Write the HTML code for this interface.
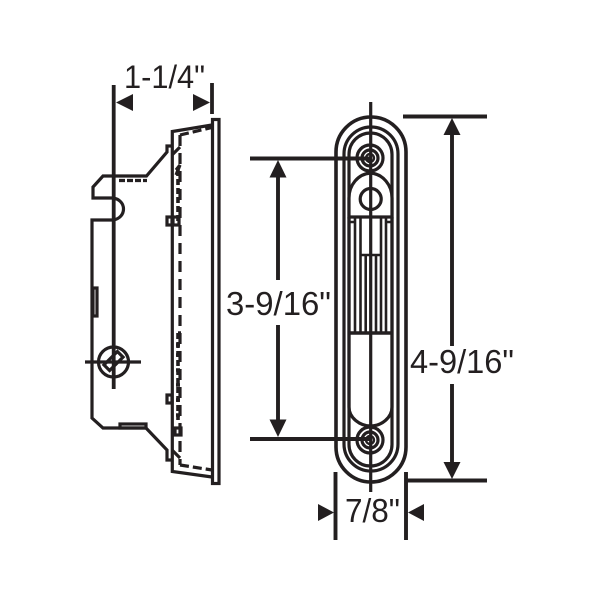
<!DOCTYPE html>
<html><head><meta charset="utf-8"><style>
html,body{margin:0;padding:0;background:#fff}
svg{display:block}
text{font-family:"Liberation Sans",sans-serif;fill:#231f20}
</style></head><body>
<svg width="600" height="600" viewBox="0 0 600 600" xmlns="http://www.w3.org/2000/svg">
<rect width="600" height="600" fill="#fff"/>
<g fill="none" stroke="#231f20" stroke-width="3.2">
<!-- left view -->
<line x1="113.7" y1="85" x2="113.7" y2="389" stroke-width="3.8"/>
<line x1="212" y1="83" x2="212" y2="114" stroke-width="3.8"/>
<rect x="212.5" y="119.5" width="6.5" height="364"/>
<path d="M212,125 L172.3,131.5 V471.5 L212,477"/>
<path d="M180,135 V465" stroke-dasharray="11 7" stroke-width="3.2"/>
<path d="M180,135 L212,127.5" stroke-dasharray="9 4"/>
<path d="M180,465 L212,470" stroke-dasharray="9 4"/>
<path d="M172,155 L180,147 M172,450 L180,458 M176,170 L180,165 L176,175"/>
<path d="M178,170 V225 M178,333 V423" stroke-width="3.6" stroke-dasharray="6 3"/>
<path d="M178,333 h3 M176,345 h4 M176,355 h4 M176,370 h4 M176,385 h4 M176,400 h4 M176,415 h4" stroke-width="3.4"/>
<path d="M172,146 H167 V152 L146.5,176 H103 L93,187 V198 H113 C127,200 127,218 113,220 H92 V418 L103,428 H146 L167,450 V460 H172"/>
<path d="M119,180.5 H147" stroke-dasharray="6 2"/>
<rect x="120" y="424" width="26" height="4"/>
<rect x="93" y="288" width="4" height="28"/>
<rect x="167" y="217" width="5" height="8"/>
<rect x="167" y="395" width="5" height="8"/>
<rect x="173" y="217" width="6" height="8"/>
<rect x="175" y="428" width="6" height="7"/>
<circle cx="113.5" cy="362" r="15"/>
<line x1="85" y1="362" x2="141" y2="362"/>
<rect x="104" y="357" width="19" height="8" transform="rotate(-45 113.5 361)"/>
<!-- right view -->
<rect x="336" y="117" width="70" height="365" rx="35" ry="35" stroke-width="3.6"/>
<rect x="344" y="127" width="54" height="344" rx="27" ry="27"/>
<rect x="349" y="133" width="43" height="333" rx="21.5" ry="21.5"/>
<circle cx="370" cy="158" r="13" fill="#fff"/><circle cx="370" cy="158" r="8"/>
<circle cx="370" cy="440" r="13" fill="#fff"/><circle cx="370" cy="440" r="8"/>
<path d="M349,217 V198 C349,185 358,174 370.5,173 C383,174 392,185 392,198 V217 Z" fill="#fff"/>
<circle cx="370.7" cy="199" r="10.5"/>
<line x1="370.7" y1="102" x2="370.7" y2="492" stroke-width="3.2"/>
<path d="M355,217 V333 M360.5,217 V333 M381,217 V333 M386,217 V333 M365.7,255 V333 M376,255 V333 M349,222 H355 M386,222 H392 M360.5,255 H381" stroke-width="2.6"/>
<path d="M349,217 V407 C349,418 360,426 370.7,426 C381,426 392,418 392,407 V217" fill="none"/>
<path d="M349,333 H392" stroke-width="3.4"/>
<circle cx="370" cy="158" r="4" stroke-width="2.4"/>
<circle cx="370" cy="440" r="4" stroke-width="2.4"/>
<!-- dims -->
<path d="M250,158.5 H370 M250,439 H370 M403,116.5 H487 M405,480.5 H487 M335.5,472 V540 M406,472 V540" stroke-width="3.9"/>
<path d="M278,170 V280 M278,325 V428 M452,128 V346 M452,384 V470" stroke-width="3.9"/>
</g>
<g fill="#231f20">
<path d="M116,102.5 L133,94 V111 Z"/>
<path d="M210,102.5 L193,94 V111 Z"/>
<path d="M278,160 L269.5,177.5 H286.5 Z"/>
<path d="M278,437 L269.5,419.5 H286.5 Z"/>
<path d="M452,118 L443.5,135 H460.5 Z"/>
<path d="M452,479 L443.5,462 H460.5 Z"/>
<path d="M334,512.5 L318,504 V521 Z"/>
<path d="M408,512.5 L424,504 V521 Z"/>
</g>
<text x="124" y="88" font-size="32" textLength="81" lengthAdjust="spacingAndGlyphs">1-1/4"</text>
<text x="226" y="315" font-size="33" textLength="105" lengthAdjust="spacingAndGlyphs">3-9/16"</text>
<text x="410" y="373" font-size="33" textLength="104" lengthAdjust="spacingAndGlyphs">4-9/16"</text>
<text x="345" y="522" font-size="33" textLength="55" lengthAdjust="spacingAndGlyphs">7/8"</text>
</svg>
</body></html>
